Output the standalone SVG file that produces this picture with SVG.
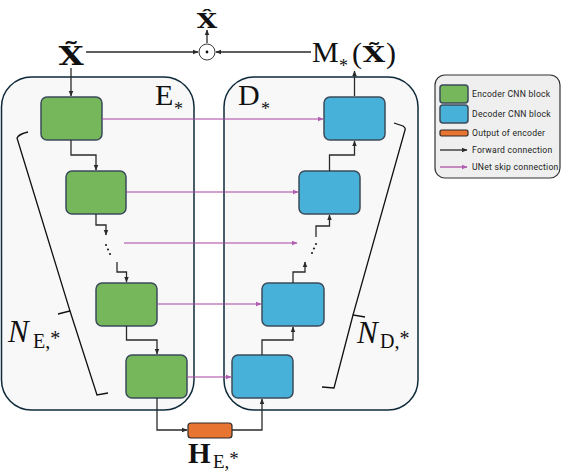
<svg xmlns="http://www.w3.org/2000/svg" width="572" height="472" viewBox="0 0 572 472">
<style>
.panel{fill:#f8f8f8;stroke:#0e2a3a;stroke-width:1.5}
.enc{fill:#77b75c;stroke:#3b4b5a;stroke-width:1.5}
.dec{fill:#48b1d9;stroke:#3b4b5a;stroke-width:1.5}
.out{fill:#e87431;stroke:#2a2a2a;stroke-width:1.2}
.fw{fill:none;stroke:#2a2a2a;stroke-width:1.3;marker-end:url(#ah)}
.sk{fill:none;stroke:#a8459f;stroke-width:1.2;marker-end:url(#ahp)}
.br{fill:none;stroke:#111;stroke-width:1.3}
.m{font-family:"Liberation Serif",serif;fill:#111}
.mb{font-family:"DejaVu Serif",serif;font-weight:bold;fill:#111}
.lg{font-family:Roboto,"Liberation Sans",sans-serif;font-size:8.6px;letter-spacing:0.25px;fill:#222}
</style>
<defs>
<marker id="ah" viewBox="0 0 10 10" refX="9" refY="5" markerWidth="6" markerHeight="6" orient="auto" markerUnits="userSpaceOnUse"><path d="M0,1 L10,5 L0,9 z" fill="#2a2a2a"/></marker>
<marker id="ahp" viewBox="0 0 10 10" refX="9" refY="5" markerWidth="6" markerHeight="6" orient="auto" markerUnits="userSpaceOnUse"><path d="M0,1 L10,5 L0,9 z" fill="#b05cb0"/></marker>
</defs>

<g id="encoder-panel"><rect class="panel" x="1.5" y="77" width="192.5" height="333" rx="30"/>
<text class="m" x="155" y="105" font-size="30">E</text><text class="m" x="174" y="115" font-size="18">*</text></g>
<g id="decoder-panel"><rect class="panel" x="224" y="77" width="194" height="333" rx="30"/>
<text class="m" x="238" y="105" font-size="30">D</text><text class="m" x="261" y="115" font-size="18">*</text></g>

<g id="enc1"><rect class="enc" x="41" y="97" width="61" height="43" rx="6"/></g>
<g id="enc2"><rect class="enc" x="66" y="171" width="60" height="43" rx="6"/></g>
<g id="enc3"><rect class="enc" x="96" y="283" width="61" height="43" rx="6"/></g>
<g id="enc4"><rect class="enc" x="126" y="355" width="61" height="43" rx="6"/></g>
<g id="dec1"><rect class="dec" x="324" y="97" width="61" height="43" rx="6"/></g>
<g id="dec2"><rect class="dec" x="299" y="171" width="61" height="43" rx="6"/></g>
<g id="dec3"><rect class="dec" x="262" y="283" width="62" height="43" rx="6"/></g>
<g id="dec4"><rect class="dec" x="232" y="355" width="61" height="43" rx="6"/></g>
<g id="bottleneck"><rect class="out" x="188" y="423" width="44" height="15" rx="3"/>
<text class="m" x="188" y="463" font-size="29" font-weight="bold">H</text><text class="m" x="213" y="468" font-size="19">E,<tspan dy="-3">*</tspan></text></g>

<g id="input"><text class="mb" transform="translate(71,65) scale(1.25,1)" font-size="26" text-anchor="middle">X̃</text></g>
<g id="output"><text class="mb" transform="translate(207,28) scale(1.25,1)" font-size="21" text-anchor="middle">X̂</text></g>
<g id="product"><circle cx="207" cy="52" r="8" fill="#fff" stroke="#222" stroke-width="0.9"/><circle cx="207" cy="52" r="1.4" fill="#111"/></g>
<g id="mask"><text class="m" x="312" y="62" font-size="30">M</text><text class="m" x="339" y="72" font-size="18">*</text><text class="m" x="352" y="63" font-size="30">(</text><text class="mb" transform="translate(374,62) scale(1.25,1)" font-size="23" text-anchor="middle">X̃</text><text class="m" x="386" y="63" font-size="30">)</text></g>

<g id="dots"><circle cx="106" cy="245" r="1.1" fill="#222"/><circle cx="108" cy="249.5" r="1.1" fill="#222"/><circle cx="110" cy="254" r="1.1" fill="#222"/>
<circle cx="312" cy="253" r="1.1" fill="#222"/><circle cx="314" cy="248.5" r="1.1" fill="#222"/><circle cx="316" cy="244" r="1.1" fill="#222"/></g>

<g id="braces">
<path class="br" d="M28,132 Q19,134 17,138 L70,311 L58,314 M70,311 L97,395 L108,393"/>
<text class="m" x="8" y="342" font-size="31" font-style="italic">N</text><text class="m" x="33" y="348" font-size="20">E,<tspan dy="-3">*</tspan></text>
<path class="br" d="M394,123 L403,126 Q406,128 405,130 L353,315 L365,317 M353,315 L334,388 L322,387"/>
<text class="m" x="357" y="343" font-size="31" font-style="italic">N</text><text class="m" x="380" y="348" font-size="20">D,<tspan dy="-3">*</tspan></text>
</g>

<g id="connectors">
<path class="fw" d="M71,68 V96"/>
<path class="fw" d="M86,52 H198"/>
<path class="fw" d="M207,43 V30"/>
<path class="fw" d="M311,52 H216"/>
<path class="fw" d="M354.5,96 V71"/>
<path class="fw" d="M71,140 V155 H96 V170"/>
<path class="fw" d="M96,214 V225 H106 V235"/>
<path class="fw" d="M117,262 V272 H126.5 V282"/>
<path class="fw" d="M126.5,326 V340 H157 V354"/>
<path class="fw" d="M157,398 V430 H187"/>
<path class="fw" d="M232,430 H262 V399"/>
<path class="fw" d="M262,355 V340 H293 V327"/>
<path class="fw" d="M293,283 V272 H305 V262"/>
<path class="fw" d="M316,237 V226 H329.5 V215"/>
<path class="fw" d="M329.5,171 V155 H354.5 V141"/>
<path class="sk" d="M102,119 H323"/>
<path class="sk" d="M126,192 H298"/>
<path class="sk" d="M124,243 H297" stroke-width="1.8"/>
<path class="sk" d="M157,304 H261"/>
<path class="sk" d="M187,377 H231"/>
</g>

<g id="legend">
<rect x="435" y="75" width="125" height="103" rx="10" fill="#efefef" stroke="#333" stroke-width="1.2"/>
<rect class="enc" x="440" y="85" width="28" height="18" rx="3"/>
<text class="lg" x="472" y="97">Encoder CNN block</text>
<rect class="dec" x="440" y="105" width="28" height="18" rx="3"/>
<text class="lg" x="472" y="117">Decoder CNN block</text>
<rect class="out" x="440" y="130" width="28" height="6" rx="1.5"/>
<text class="lg" x="472" y="136">Output of encoder</text>
<path class="fw" d="M440,150 H467" stroke="#000" stroke-width="1.6"/>
<text class="lg" x="472" y="153">Forward connection</text>
<path class="sk" d="M440,167 H467"/>
<text class="lg" x="472" y="170">UNet skip connection</text>
</g>
</svg>
